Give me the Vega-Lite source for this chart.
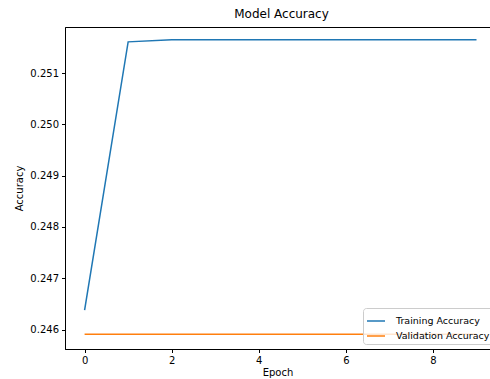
{
  "$schema": "https://vega.github.io/schema/vega-lite/v6.json",
  "width": 425,
  "height": 322,
  "autosize": {"type": "none"},
  "padding": {"left": 65, "top": 27, "right": 0, "bottom": 30},
  "background": "white",
  "title": {"text": "Model Accuracy", "fontSize": 12, "font": "DejaVu Sans", "fontWeight": "normal", "color": "black", "offset": 6, "dx": 4},
  "config": {
    "view": {"stroke": "black", "strokeWidth": 1},
    "axis": {
      "grid": false,
      "domainColor": "black",
      "tickColor": "black",
      "tickSize": 3.5,
      "labelFont": "DejaVu Sans",
      "labelFontSize": 10,
      "labelColor": "black",
      "titleFont": "DejaVu Sans",
      "titleFontSize": 10,
      "titleFontWeight": "normal",
      "titleColor": "black"
    }
  },
  "data": {
    "values": [
      {"epoch": 0, "accuracy": 0.24638, "series": "Training Accuracy"},
      {"epoch": 1, "accuracy": 0.25161, "series": "Training Accuracy"},
      {"epoch": 2, "accuracy": 0.25165, "series": "Training Accuracy"},
      {"epoch": 3, "accuracy": 0.25165, "series": "Training Accuracy"},
      {"epoch": 4, "accuracy": 0.25165, "series": "Training Accuracy"},
      {"epoch": 5, "accuracy": 0.25165, "series": "Training Accuracy"},
      {"epoch": 6, "accuracy": 0.25165, "series": "Training Accuracy"},
      {"epoch": 7, "accuracy": 0.25165, "series": "Training Accuracy"},
      {"epoch": 8, "accuracy": 0.25165, "series": "Training Accuracy"},
      {"epoch": 9, "accuracy": 0.25165, "series": "Training Accuracy"},
      {"epoch": 0, "accuracy": 0.245906, "series": "Validation Accuracy"},
      {"epoch": 1, "accuracy": 0.245906, "series": "Validation Accuracy"},
      {"epoch": 2, "accuracy": 0.245906, "series": "Validation Accuracy"},
      {"epoch": 3, "accuracy": 0.245906, "series": "Validation Accuracy"},
      {"epoch": 4, "accuracy": 0.245906, "series": "Validation Accuracy"},
      {"epoch": 5, "accuracy": 0.245906, "series": "Validation Accuracy"},
      {"epoch": 6, "accuracy": 0.245906, "series": "Validation Accuracy"},
      {"epoch": 7, "accuracy": 0.245906, "series": "Validation Accuracy"},
      {"epoch": 8, "accuracy": 0.245906, "series": "Validation Accuracy"},
      {"epoch": 9, "accuracy": 0.245906, "series": "Validation Accuracy"}
    ]
  },
  "mark": {"type": "line", "strokeWidth": 1.5},
  "encoding": {
    "x": {
      "field": "epoch",
      "type": "quantitative",
      "scale": {"domain": [-0.45, 9.31], "nice": false, "zero": false},
      "axis": {"values": [0, 2, 4, 6, 8], "title": "Epoch", "labelPadding": 3, "titlePadding": 2}
    },
    "y": {
      "field": "accuracy",
      "type": "quantitative",
      "scale": {"domain": [0.24562, 0.2519], "nice": false, "zero": false},
      "axis": {"values": [0.246, 0.247, 0.248, 0.249, 0.25, 0.251], "format": ".3f", "title": "Accuracy", "labelPadding": 3, "titlePadding": 5}
    },
    "color": {
      "field": "series",
      "type": "nominal",
      "scale": {"domain": ["Training Accuracy", "Validation Accuracy"], "range": ["#1f77b4", "#ff7f0e"]},
      "legend": {
        "title": null,
        "orient": "none",
        "legendX": 298,
        "legendY": 281,
        "symbolType": "stroke",
        "symbolSize": 324,
        "symbolStrokeWidth": 1.5,
        "labelFont": "DejaVu Sans",
        "labelFontSize": 9.5,
        "labelColor": "black",
        "labelOffset": 10,
        "rowPadding": -3,
        "padding": 3,
        "strokeColor": "#cccccc",
        "fillColor": "rgba(255,255,255,0.8)",
        "cornerRadius": 3
      }
    }
  }
}
